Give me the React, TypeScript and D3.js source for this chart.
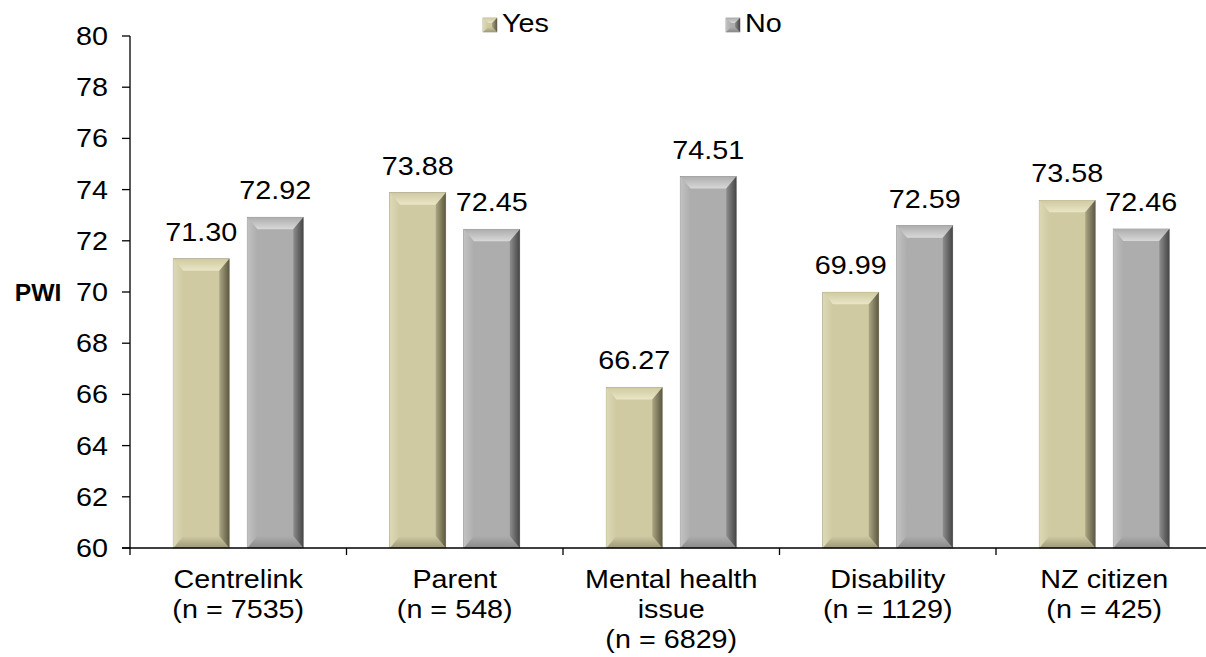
import React from "react";
import * as d3 from "d3";

const categories = ["Centrelink", "Parent", "Mental health", "Disability", "NZ citizen"];
const categoryLabels: string[][] = [
  ["Centrelink", "(n = 7535)"],
  ["Parent", "(n = 548)"],
  ["Mental health", "issue", "(n = 6829)"],
  ["Disability", "(n = 1129)"],
  ["NZ citizen", "(n = 425)"],
];
const seriesNames = ["Yes", "No"];
const yesValues = [71.3, 73.88, 66.27, 69.99, 73.58];
const noValues = [72.92, 72.45, 74.51, 72.59, 72.46];
const yTicks = [60, 62, 64, 66, 68, 70, 72, 74, 76, 78, 80];

const W = 1206;
const H = 657;
const FONT = "'Liberation Sans', Arial, sans-serif";
const SX = 1.15;

const palettes: Record<string, { face: string; top: string; left: string; rightA: string; rightB: string; bottom: string; edge: string }> = {
  Yes: { face: "#CFCAA2", top: "#EAE6C6", left: "#DDD9B6", rightA: "#ABA683", rightB: "#5C5842", bottom: "#9E9977", edge: "#8C876A" },
  No: { face: "#ADADAD", top: "#D8D8D8", left: "#C2C2C2", rightA: "#8E8E8E", rightB: "#454545", bottom: "#8A8A8A", edge: "#7A7A7A" },
};

function BevelBar({ x0, x1, y0, y1, s, b, name }: { x0: number; x1: number; y0: number; y1: number; s: number; b: number; name: string }) {
  const p = palettes[name];
  const pts = (a: number[][]) => a.map((q) => q.join(",")).join(" ");
  const bb = Math.min(b, (y1 - y0) / 2);
  return (
    <g>
      <rect x={x0} y={y0} width={x1 - x0} height={y1 - y0} fill={p.face} stroke={p.edge} strokeWidth={0.6} />
      <polygon points={pts([[x0, y0], [x1, y0], [x1 - s, y0 + bb], [x0 + s, y0 + bb]])} fill={`url(#top-${name})`} />
      <polygon points={pts([[x0, y1], [x1, y1], [x1 - s, y1 - bb], [x0 + s, y1 - bb]])} fill={`url(#bot-${name})`} />
      <polygon points={pts([[x0, y0], [x0 + s, y0 + bb], [x0 + s, y1 - bb], [x0, y1]])} fill={`url(#left-${name})`} />
      <polygon points={pts([[x1, y0], [x1 - s, y0 + bb], [x1 - s, y1 - bb], [x1, y1]])} fill={`url(#right-${name})`} />
    </g>
  );
}

function SText({ x, y, children, anchor = "middle", size = 25, weight = "normal", sx = SX }: any) {
  return (
    <text
      transform={`translate(${x},${y}) scale(${sx},1)`}
      textAnchor={anchor}
      fontFamily={FONT}
      fontSize={size}
      fontWeight={weight}
      fill="#000"
    >
      {children}
    </text>
  );
}

export default function App() {
  const left = 130;
  const top = 36;
  const bottom = 548;
  const catWidth = 216.5;
  const x = d3.scaleBand<string>().domain(categories).range([left, left + catWidth * categories.length]).paddingInner(0).paddingOuter(0);
  const xi = d3.scaleBand<string>().domain(seriesNames).range([0, x.bandwidth()]).paddingInner(0.243).paddingOuter(0.584);
  const y = d3.scaleLinear().domain([60, 80]).range([bottom, top]);

  const rows = categories.map((c, i) => ({ c, Yes: yesValues[i], No: noValues[i] }));

  return (
    <svg width={W} height={H} style={{ position: "absolute", left: 0, top: 0, background: "#fff" }}>
      <defs>
        {seriesNames.map((n) => {
          const p = palettes[n];
          return (
            <React.Fragment key={n}>
              <linearGradient id={`top-${n}`} x1="0" y1="0" x2="0" y2="1">
                <stop offset="0" stopColor={p.face} />
                <stop offset="1" stopColor={p.top} />
              </linearGradient>
              <linearGradient id={`bot-${n}`} x1="0" y1="0" x2="0" y2="1">
                <stop offset="0" stopColor={p.face} />
                <stop offset="1" stopColor={p.bottom} />
              </linearGradient>
              <linearGradient id={`left-${n}`} x1="0" y1="0" x2="1" y2="0">
                <stop offset="0" stopColor={p.left} />
                <stop offset="1" stopColor={p.face} />
              </linearGradient>
              <linearGradient id={`right-${n}`} x1="0" y1="0" x2="1" y2="0">
                <stop offset="0" stopColor={p.rightA} />
                <stop offset="1" stopColor={p.rightB} />
              </linearGradient>
            </React.Fragment>
          );
        })}
      </defs>

      {/* bars */}
      {rows.map((r) =>
        seriesNames.map((n) => {
          const x0 = (x(r.c) as number) + (xi(n) as number);
          const x1 = x0 + xi.bandwidth();
          const v = (r as any)[n] as number;
          return (
            <g key={r.c + n}>
              <BevelBar x0={x0} x1={x1} y0={y(v)} y1={y(60)} s={10} b={12} name={n} />
              <SText x={(x0 + x1) / 2} y={y(v) - 18}>{v.toFixed(2)}</SText>
            </g>
          );
        })
      )}

      {/* y axis */}
      <line x1={left} x2={left} y1={y(80)} y2={y(60)} stroke="#000" strokeWidth={1.3} />
      {yTicks.map((t) => (
        <g key={t}>
          <line x1={left - 8} x2={left} y1={y(t)} y2={y(t)} stroke="#000" strokeWidth={1.3} />
          <SText x={108} y={y(t) + 9} anchor="end">{t}</SText>
        </g>
      ))}
      <SText x={38} y={y(70) + 9} size={24} weight="bold" sx={1.03}>PWI</SText>

      {/* x axis */}
      <line x1={left - 8} x2={W} y1={bottom} y2={bottom} stroke="#000" strokeWidth={1.3} />
      {categories.map((c) => (
        <line key={c} x1={x(c)} x2={x(c)} y1={bottom} y2={bottom + 7} stroke="#000" strokeWidth={1.3} />
      ))}
      {categories.map((c, i) =>
        categoryLabels[i].map((line, j) => (
          <SText key={c + j} x={(x(c) as number) + x.bandwidth() / 2} y={588 + j * 30}>{line}</SText>
        ))
      )}

      {/* legend */}
      {seriesNames.map((n, i) => {
        const lx = i === 0 ? 483 : 726;
        return (
          <g key={n}>
            <BevelBar x0={lx} x1={lx + 14} y0={18} y1={32} s={5} b={5} name={n} />
            <SText x={lx + 19} y={32} anchor="start">{n}</SText>
          </g>
        );
      })}
    </svg>
  );
}
